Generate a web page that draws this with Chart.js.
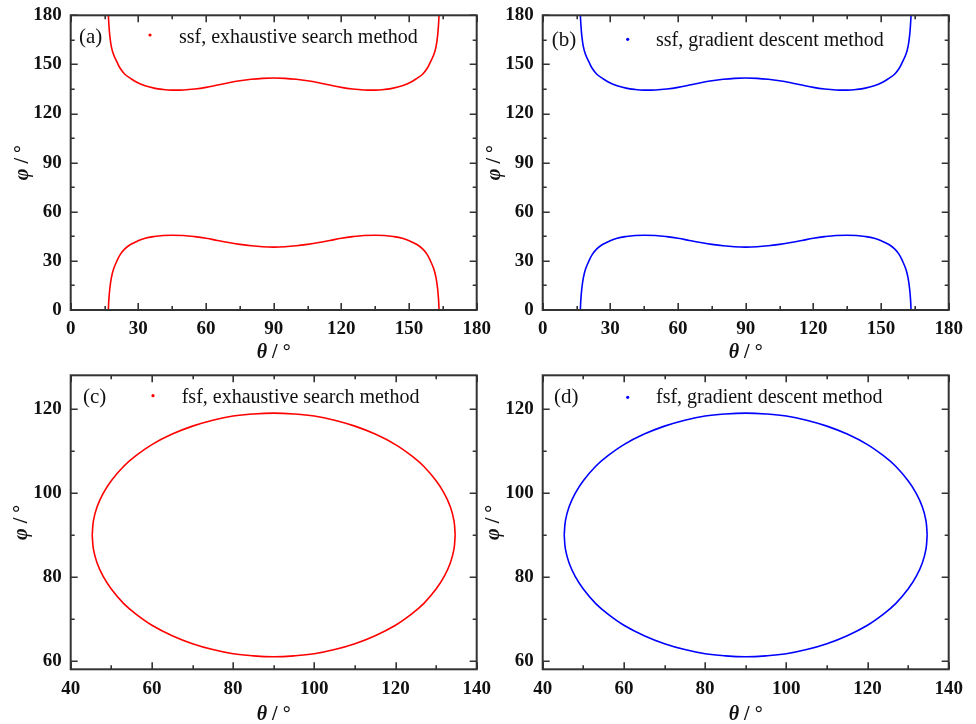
<!DOCTYPE html>
<html>
<head>
<meta charset="utf-8">
<script src="https://cdn.jsdelivr.net/npm/chart.js@4.4.1/dist/chart.umd.min.js"></script>
<style>
    html, body { margin: 0; padding: 0; background: #fff; }
    body { width: 976px; height: 724px; position: relative; overflow: hidden; }
    canvas { position: absolute; }
</style>
</head>
<body>
<canvas id="chart-a" width="500" height="363" style="left:0;top:0"></canvas>
<canvas id="chart-b" width="496" height="363" style="left:480px;top:0"></canvas>
<canvas id="chart-c" width="500" height="361" style="left:0;top:363px"></canvas>
<canvas id="chart-d" width="496" height="361" style="left:480px;top:363px"></canvas>
<script>
// ---- data ----
// ssf: theta (deg) and the two phi branches (deg); both methods give the same curve
const ssfTheta = [16.7, 16.9, 17.3, 18, 19, 20.5, 22, 24, 26.5, 29.5, 33, 37, 41, 45, 50, 55, 60, 65, 70, 75, 80, 85, 90,
                  95, 100, 105, 110, 115, 120, 125, 130, 135, 139, 143, 147, 150.5, 153.5, 156, 158, 159.5, 161, 162, 162.7, 163.1, 163.3];
const ssfUpper = [180, 175, 168, 161, 156, 151.5, 147.5, 144, 141.5, 139, 137, 135.5, 134.7, 134.3, 134.4, 135, 136, 137.4, 138.8, 140, 140.9, 141.5, 141.7,
                  141.5, 140.9, 140, 138.8, 137.4, 136, 135, 134.4, 134.3, 134.7, 135.5, 137, 139, 141.5, 144, 147.5, 151.5, 156, 161, 168, 175, 180];
const ssfLower = [0, 6, 12.5, 19.5, 25, 30, 34, 37.3, 40, 42, 43.8, 44.9, 45.5, 45.7, 45.5, 44.8, 43.8, 42.5, 41.2, 40.1, 39.2, 38.6, 38.4,
                  38.6, 39.2, 40.1, 41.2, 42.5, 43.8, 44.8, 45.5, 45.7, 45.5, 44.9, 43.8, 42, 40, 37.3, 34, 30, 25, 19.5, 12.5, 6, 0];

// fsf: closed loop, split into upper and lower halves
const fsfTheta = [45.3, 45.6, 46.5, 48, 50, 53, 56, 60, 65, 70, 75, 80, 85, 90,
                  95, 100, 105, 110, 115, 120, 124, 127, 130, 132, 133.5, 134.4, 134.7];
const fsfUpper = [90, 93.4, 96.7, 99.9, 102.9, 106.3, 108.8, 111.5, 114, 115.9, 117.3, 118.3, 118.8, 119,
                  118.8, 118.3, 117.3, 115.9, 114, 111.5, 108.8, 106.3, 102.9, 99.9, 96.7, 93.4, 90];
const fsfLower = [90, 86.6, 83.3, 80.1, 77.1, 73.7, 71.2, 68.5, 66, 64.1, 62.7, 61.7, 61.2, 61,
                  61.2, 61.7, 62.7, 64.1, 66, 68.5, 71.2, 73.7, 77.1, 80.1, 83.3, 86.6, 90];

// tick labels
const ssfTicks = [0, 30, 60, 90, 120, 150, 180];
const fsfThetaTicks = [40, 60, 80, 100, 120, 140];
const fsfPhiTicks = [60, 80, 100, 120];

const SERIF = "'Liberation Serif', 'Times New Roman', serif";

// frame, inward ticks on all sides, panel letter, legend and axis titles
const decorPlugin = {
    id: 'decor',
    afterDatasetsDraw(chart, args, o) {
        const { ctx, chartArea: a, scales: { x, y } } = chart;
        ctx.save();

        const drawTicks = (scale, horiz) => {
            const vals = scale.ticks.map(t => t.value);
            const minors = [];
            for (let i = 0; i < vals.length - 1; i++) minors.push((vals[i] + vals[i + 1]) / 2);
            ctx.strokeStyle = '#333';
            ctx.lineWidth = 1.6;
            [[vals, 7], [minors, 4]].forEach(([list, len]) => {
                list.forEach(v => {
                    const p = Math.round(scale.getPixelForValue(v)) + 0.2;
                    ctx.beginPath();
                    if (horiz) {
                        ctx.moveTo(p, a.bottom); ctx.lineTo(p, a.bottom - len);
                        ctx.moveTo(p, a.top); ctx.lineTo(p, a.top + len);
                    } else {
                        ctx.moveTo(a.left, p); ctx.lineTo(a.left + len, p);
                        ctx.moveTo(a.right, p); ctx.lineTo(a.right - len, p);
                    }
                    ctx.stroke();
                });
            });
        };
        drawTicks(x, true);
        drawTicks(y, false);

        ctx.strokeStyle = '#333';
        ctx.lineWidth = 2;
        ctx.strokeRect(a.left, a.top, a.right - a.left, a.bottom - a.top);

        // panel letter
        ctx.fillStyle = '#111';
        ctx.textBaseline = 'alphabetic';
        ctx.textAlign = 'left';
        ctx.font = `21px ${SERIF}`;
        ctx.fillText(o.letter, o.letterX, o.baseline);

        // legend
        ctx.fillStyle = o.color;
        ctx.beginPath();
        ctx.arc(o.dotX, o.dotY, 1.6, 0, Math.PI * 2);
        ctx.fill();
        ctx.fillStyle = '#111';
        ctx.font = `20px ${SERIF}`;
        ctx.fillText(o.label, o.textX, o.baseline);

        // axis titles
        const title = (cx, cy, sym) => {
            ctx.font = `italic bold 20px ${SERIF}`;
            const w1 = ctx.measureText(sym).width;
            ctx.font = `bold 20px ${SERIF}`;
            const rest = ' / \u00b0';
            const w2 = ctx.measureText(rest).width;
            const x0 = cx - (w1 + w2) / 2;
            ctx.textBaseline = 'middle';
            ctx.textAlign = 'left';
            ctx.fillStyle = '#111';
            ctx.font = `italic bold 20px ${SERIF}`;
            ctx.fillText(sym, x0, cy);
            ctx.font = `bold 20px ${SERIF}`;
            ctx.fillText(rest, x0 + w1, cy);
        };
        title((a.left + a.right) / 2, o.xTitleY, '\u03b8');
        ctx.translate(o.yTitleX, (a.top + a.bottom) / 2);
        ctx.rotate(-Math.PI / 2);
        title(0, 0, '\u03c6');

        ctx.restore();
    }
};

function makePanel(id, p) {
    const toPoints = (xs, ys) => xs.map((v, i) => ({ x: v, y: ys[i] }));
    const tickFont = { family: SERIF, size: 19, weight: 'bold' };
    new Chart(document.getElementById(id), {
        type: 'scatter',
        data: {
            datasets: p.branches.map(ys => ({
                data: toPoints(p.theta, ys),
                showLine: true,
                borderColor: p.color,
                borderWidth: 1.6,
                pointRadius: 0,
                tension: 0.4
            }))
        },
        options: {
            responsive: false,
            animation: false,
            events: [],
            layout: { padding: { left: 0, bottom: 0, top: p.top, right: p.right } },
            plugins: {
                legend: { display: false },
                tooltip: { enabled: false },
                decor: p.decor
            },
            scales: {
                x: {
                    type: 'linear',
                    min: p.xMin, max: p.xMax,
                    afterBuildTicks: s => { s.ticks = p.xTicks.map(v => ({ value: v })); },
                    afterFit: s => { s.height = p.xHeight; s.paddingLeft = 0; s.paddingRight = 0; },
                    grid: { display: false, drawTicks: false },
                    border: { display: false },
                    ticks: { color: '#111', font: tickFont, padding: 8, maxRotation: 0, autoSkip: false }
                },
                y: {
                    type: 'linear',
                    min: p.yMin, max: p.yMax,
                    afterBuildTicks: s => { s.ticks = p.yTicks.map(v => ({ value: v })); },
                    afterFit: s => { s.width = p.yWidth; s.paddingTop = 0; s.paddingBottom = 0; },
                    grid: { display: false, drawTicks: false },
                    border: { display: false },
                    ticks: { color: '#111', font: tickFont, padding: 9, autoSkip: false }
                }
            }
        },
        plugins: [decorPlugin]
    });
}

const RED = '#ff0000';
const BLUE = '#0000ff';

makePanel('chart-a', {
    theta: ssfTheta, branches: [ssfUpper, ssfLower], color: RED,
    xMin: 0, xMax: 180, yMin: 0, yMax: 180, xTicks: ssfTicks, yTicks: ssfTicks,
    top: 15.3, right: 23.3, yWidth: 70.7, xHeight: 53,
    decor: { color: RED, letter: '(a)', letterX: 79, label: 'ssf, exhaustive search method',
             dotX: 150, dotY: 35, textX: 179, baseline: 42.5, xTitleY: 353, yTitleX: 22.5 }
});

makePanel('chart-b', {
    theta: ssfTheta, branches: [ssfUpper, ssfLower], color: BLUE,
    xMin: 0, xMax: 180, yMin: 0, yMax: 180, xTicks: ssfTicks, yTicks: ssfTicks,
    top: 15.3, right: 27.3, yWidth: 62.7, xHeight: 53,
    decor: { color: BLUE, letter: '(b)', letterX: 71.7, label: 'ssf, gradient descent method',
             dotX: 147.7, dotY: 39.3, textX: 176, baseline: 45.5, xTitleY: 353, yTitleX: 15 }
});

makePanel('chart-c', {
    theta: fsfTheta, branches: [fsfUpper, fsfLower], color: RED,
    xMin: 40, xMax: 140, yMin: 58, yMax: 128, xTicks: fsfThetaTicks, yTicks: fsfPhiTicks,
    top: 12.3, right: 23.3, yWidth: 70.7, xHeight: 54.7,
    decor: { color: RED, letter: '(c)', letterX: 83, label: 'fsf, exhaustive search method',
             dotX: 153, dotY: 32.7, textX: 181.7, baseline: 40, xTitleY: 352, yTitleX: 22 }
});

makePanel('chart-d', {
    theta: fsfTheta, branches: [fsfUpper, fsfLower], color: BLUE,
    xMin: 40, xMax: 140, yMin: 58, yMax: 128, xTicks: fsfThetaTicks, yTicks: fsfPhiTicks,
    top: 12.3, right: 27.3, yWidth: 62.7, xHeight: 54.7,
    decor: { color: BLUE, letter: '(d)', letterX: 74, label: 'fsf, gradient descent method',
             dotX: 147.7, dotY: 34.3, textX: 176, baseline: 40.3, xTitleY: 352, yTitleX: 14 }
});
</script>
</body>
</html>
